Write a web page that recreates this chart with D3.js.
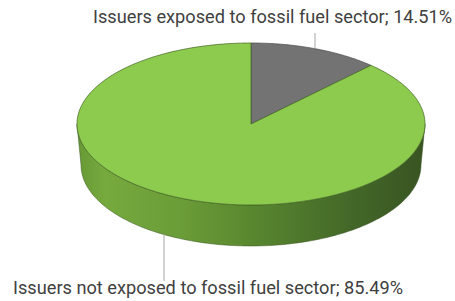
<!DOCTYPE html>
<html>
<head>
<meta charset="utf-8">
<script src="https://cdn.jsdelivr.net/npm/d3@7"></script>
<style>
  body { margin: 0; background: #fff; }
  text { font-family: Roboto, "Noto Sans", sans-serif; fill: #404040; }
</style>
</head>
<body>
<svg class="pie"></svg>
<script>
// data
var categories = ["Issuers exposed to fossil fuel sector", "Issuers not exposed to fossil fuel sector"];
var values = [14.51, 85.49];
var valueLabels = ["14.51%", "85.49%"];

var width = 455, height = 301;

// geometry of the tilted pie
var cx = 251, cy = 124, rx = 174, ry = 81, depth = 41;
var rxBottom = 170;
var persp = 0.58; // squeezes angles on the far side

var sliceColors = ["#737373", "#8dcb4f"];
var edgeColors = ["#4a4a4a", "#3f6220"];

var svg = d3.select("svg.pie")
    .attr("width", width)
    .attr("height", height);

var defs = svg.append("defs");
var grad = defs.append("linearGradient")
    .attr("id", "sideGrad")
    .attr("gradientUnits", "userSpaceOnUse")
    .attr("x1", cx - rx).attr("x2", cx + rx)
    .attr("y1", 0).attr("y2", 0);
[[0, "#679835"], [0.08, "#76aa3e"], [0.3, "#6a9c37"], [0.55, "#55822e"], [0.8, "#426628"], [1, "#395422"]]
    .forEach(function (s) {
        grad.append("stop").attr("offset", s[0]).attr("stop-color", s[1]);
    });

var pie = d3.pie().sort(null).value(function (d) { return d; });
var arcs = pie(values);

// angle on screen for a pie angle (0 = top, clockwise)
function screenAngle(a) {
    return Math.atan2(Math.sin(a) / (1 + persp * Math.cos(a)), Math.cos(a));
}
function pt(phi, r, yc) {
    return [cx + r * Math.sin(phi), yc - ry * Math.cos(phi)];
}
function unwrap(a0, a1) {
    var p0 = screenAngle(a0), p1 = screenAngle(a1);
    while (p1 < p0) p1 += 2 * Math.PI;
    if (a1 - a0 >= 2 * Math.PI - 1e-9) p1 = p0 + 2 * Math.PI;
    return [p0, p1];
}
function samples(p0, p1) {
    var n = Math.max(2, Math.ceil((p1 - p0) / 0.02));
    return d3.range(n + 1).map(function (i) { return p0 + (p1 - p0) * i / n; });
}

// side walls (front half only: screen angle between 90 and 270 deg)
arcs.forEach(function (d, i) {
    var p = unwrap(d.startAngle, d.endAngle);
    [0, 2 * Math.PI].forEach(function (shift) {
        var lo = Math.max(p[0], Math.PI / 2 + shift), hi = Math.min(p[1], 3 * Math.PI / 2 + shift);
        if (hi <= lo) return;
        var s = samples(lo, hi);
        var top = s.map(function (a) { return pt(a, rx, cy); });
        var bot = s.slice().reverse().map(function (a) { return pt(a, rxBottom, cy + depth); });
        svg.append("path")
            .attr("d", d3.line()(top.concat(bot)) + "Z")
            .attr("fill", i === 1 ? "url(#sideGrad)" : "#555")
            .attr("stroke", "#3a5522")
            .attr("stroke-width", 0.5);
    });
});

// top faces
arcs.forEach(function (d, i) {
    var p = unwrap(d.startAngle, d.endAngle);
    var rim = samples(p[0], p[1]).map(function (a) { return pt(a, rx, cy); });
    svg.append("path")
        .attr("d", d3.line()([[cx, cy]].concat(rim)) + "Z")
        .attr("fill", sliceColors[i])
        .attr("stroke", edgeColors[i])
        .attr("stroke-width", 0.7)
        .attr("stroke-linejoin", "round");
});

// y on the top rim / bottom rim for a given x
function rimY(x, r, yc, sign) {
    var t = (x - cx) / r;
    return yc + sign * ry * Math.sqrt(Math.max(0, 1 - t * t));
}

// labels with leader lines
var leaderX = [315, 164];
svg.append("line")
    .attr("x1", leaderX[0]).attr("x2", leaderX[0])
    .attr("y1", 33).attr("y2", rimY(leaderX[0], rx, cy, -1))
    .attr("stroke", "#a6a6a6").attr("stroke-width", 1);
svg.append("line")
    .attr("x1", leaderX[1]).attr("x2", leaderX[1])
    .attr("y1", rimY(leaderX[1], rxBottom, cy + depth, 1)).attr("y2", 281)
    .attr("stroke", "#a6a6a6").attr("stroke-width", 1);

svg.append("text")
    .attr("x", 93).attr("y", 23)
    .attr("font-size", 18.2)
    .text(categories[0] + "; " + valueLabels[0]);

svg.append("text")
    .attr("x", 13).attr("y", 294)
    .attr("font-size", 18.2)
    .text(categories[1] + "; " + valueLabels[1]);
</script>
</body>
</html>
